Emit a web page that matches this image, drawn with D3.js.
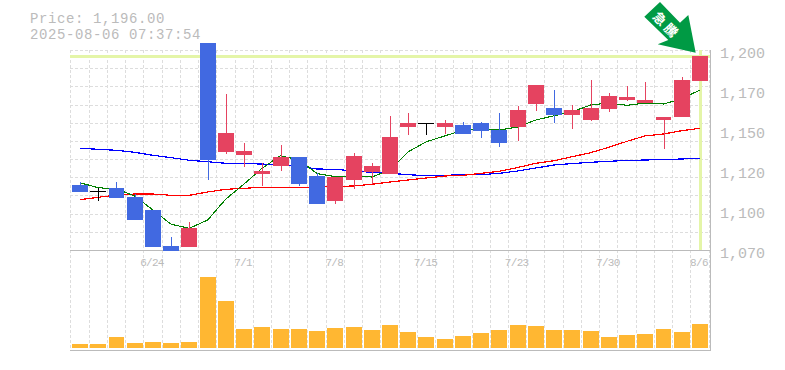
<!DOCTYPE html>
<html><head><meta charset="utf-8">
<script src="https://cdn.jsdelivr.net/npm/d3@7"></script>
<style>html,body{margin:0;padding:0;background:#fff}svg{display:block}text{font-family:"Liberation Mono",monospace}</style>
</head><body><div id="chart"></div>
<script>
const dates=["6/18","6/19","6/20","6/23","6/24","6/25","6/26","6/27","6/30","7/1","7/2","7/3","7/4","7/7","7/8","7/9","7/10","7/11","7/14","7/15","7/16","7/17","7/18","7/22","7/23","7/24","7/25","7/28","7/29","7/30","7/31","8/1","8/4","8/5","8/6"];
const open_=[1112.25,1108.35,1110.3,1104.45,1096,1072.6,1071.95,1204.55,1133.7,1131.75,1119.4,1124.6,1130.45,1118.1,1101.85,1115.5,1120.7,1119.4,1149.95,1152.35,1149.95,1151.25,1152.55,1148,1149.95,1164.9,1162.3,1157.75,1154.5,1161.65,1167.5,1165.55,1154.5,1156.45,1179.85];
const close_=[1107.7,1108.35,1103.8,1089.5,1071.95,1069.35,1084.3,1128.5,1146.05,1134.35,1121.35,1130.45,1112.9,1099.9,1117.45,1131.1,1124.6,1143.45,1152.75,1152.35,1152.55,1145.4,1147.35,1139.55,1161,1177.25,1157.75,1161,1162.3,1170.1,1169.45,1167.5,1156.45,1180.5,1196.1];
const high=[1114.2,1110.5,1114.2,1106.2,1096,1078.45,1088.2,1204.55,1171.4,1139.55,1126.55,1138.25,1130.45,1120.05,1117.45,1133,1126.55,1157.1,1159.05,1152.35,1154.5,1153.2,1153.2,1159.05,1163.6,1177.25,1174,1164.25,1180.5,1172.05,1176.6,1179.2,1156.45,1182.45,1196.1];
const low=[1107.7,1101.85,1103.8,1089.5,1071.95,1069.35,1084.3,1115.5,1132.4,1124.05,1111.6,1121.35,1111.6,1099.9,1099.9,1109.65,1112.9,1119.4,1144.75,1144.75,1145.4,1145.4,1142.8,1136.95,1140.85,1160.35,1152.55,1148.65,1153.85,1159.7,1166.85,1165.55,1135.65,1156.45,1179.85];
const maShort=[1113.7,1110.5,1109.65,1105.1,1096,1086.7,1084.1,1089.5,1103.15,1112.9,1123.3,1131.3,1128.5,1119.7,1117.65,1118.1,1117.45,1122,1133.9,1140.4,1144.1,1148,1148.65,1148,1150,1154.5,1157.3,1159.9,1164.25,1165.55,1164.05,1165.55,1164.9,1168.35,1174];
const maMid=[1102.7,1104.25,1105.75,1106.4,1106.4,1105.55,1105.55,1107.7,1109.45,1110.1,1110.75,1110.75,1110.5,1110.95,1111.3,1111.6,1112.7,1114.2,1115.5,1116.8,1118.1,1118.55,1119.85,1121.15,1123.6,1126.35,1128.05,1130.65,1133.25,1136.75,1140.65,1144.2,1145.4,1147.55,1149.1];
const maLong=[1136.1,1135.45,1134.8,1133.5,1131.55,1130,1128.3,1127.4,1126.35,1126.1,1125.9,1125.25,1124.4,1122.65,1122.45,1121.35,1120.5,1119.85,1118.95,1118.3,1118.55,1118.95,1118.95,1119.85,1121.35,1123.3,1125.25,1126.2,1127,1127.65,1128.2,1128.5,1128.8,1129.15,1129.6];
const volume=[4,4,11,5,6,5,6,71,47,19,21,19,19,17,20,21,18,23,16,11,9,12,15,18,23,22,18,18,17,11,13,14,19,16,24];
const yTicks=[1200,1174,1148,1122,1096,1070];
const yTickLabels=["1,200","1,170","1,150","1,120","1,100","1,070"];
const xTickLabels=["6/24","7/1","7/8","7/15","7/23","7/30","8/6"];
const priceLine=1196;
const arrowLabel="急騰";

const W=785,H=370,L=70,R=710,T=50,B=250,VB=348,AX=350;
const svg=d3.select("#chart").append("svg").attr("width",W).attr("height",H);
const x=d3.scaleBand().domain(dates).range([70.9,709.1]).paddingInner(0.125).paddingOuter(0.0625);
const cx=d=>x(d)+x.bandwidth()/2;
const y=d3.scaleLinear().domain([1070,1200]).range([B,T]);
const v=d3.scaleLinear().domain([0,100]).range([VB,VB-100]);

// grid
const grid=svg.append("g").attr("stroke","#ddd").attr("stroke-dasharray","3 2").attr("fill","none");
d3.range(36).forEach(i=>{const gx=Math.floor(70.9+i*x.step())+.5;grid.append("line").attr("x1",gx).attr("x2",gx).attr("y1",T).attr("y2",AX);});
d3.range(12).forEach(i=>{const gy=Math.round(y(1070+i*130/11))+.5;grid.append("line").attr("x1",L).attr("x2",R).attr("y1",gy).attr("y2",gy);});

// highlight
svg.append("line").attr("x1",L).attr("x2",R).attr("y1",y(priceLine)).attr("y2",y(priceLine)).attr("stroke","#e4f5a8").attr("stroke-width",3).attr("shape-rendering","crispEdges");
svg.append("line").attr("x1",cx("8/6")+.5).attr("x2",cx("8/6")+.5).attr("y1",T).attr("y2",B).attr("stroke","#e4f5a8").attr("stroke-width",3).attr("shape-rendering","crispEdges");

// frame
const frame=svg.append("g").attr("stroke","#bbb").attr("fill","none");
frame.append("line").attr("x1",L).attr("x2",R).attr("y1",B+.5).attr("y2",B+.5);
frame.append("line").attr("x1",L).attr("x2",R).attr("y1",AX+.5).attr("y2",AX+.5);
frame.append("line").attr("x1",R+.5).attr("x2",R+.5).attr("y1",T).attr("y2",AX+1);

// volume
svg.append("g").attr("shape-rendering","crispEdges").selectAll("rect").data(volume).join("rect")
 .attr("x",(d,i)=>x(dates[i])).attr("width",x.bandwidth()).attr("y",d=>v(d)).attr("height",d=>VB-v(d)).attr("fill","#ffb732");

// moving averages
const line=d3.line().x((d,i)=>cx(dates[i])).y(d=>y(d));
[[maLong,"#0000ff",1.2],[maMid,"#ff0000",1.2],[maShort,"#008000",1.1]].forEach(([s,c,w])=>{
 svg.append("path").attr("d",line(s)).attr("fill","none").attr("stroke",c).attr("stroke-width",w).attr("shape-rendering","crispEdges");
});

// candles
const colorOf=i=>close_[i]>open_[i]?"#e54360":close_[i]<open_[i]?"#4169e1":"#000";
const cg=svg.append("g").attr("shape-rendering","crispEdges");
cg.selectAll("line").data(dates).join("line")
 .attr("x1",d=>Math.round(cx(d))+.5).attr("x2",d=>Math.round(cx(d))+.5)
 .attr("y1",(d,i)=>y(high[i])).attr("y2",(d,i)=>y(low[i])).attr("stroke",(d,i)=>colorOf(i));
cg.selectAll("rect").data(dates).join("rect")
 .attr("x",d=>x(d)).attr("width",x.bandwidth())
 .attr("y",(d,i)=>Math.min(y(open_[i]),y(close_[i])))
 .attr("height",(d,i)=>Math.max(1,Math.abs(y(open_[i])-y(close_[i]))))
 .attr("fill",(d,i)=>colorOf(i));

// labels
svg.append("g").attr("fill","#bbb").attr("font-size",15).selectAll("text").data(yTicks).join("text")
 .attr("x",720).attr("y",d=>y(d)+8).text((d,i)=>yTickLabels[i]);
svg.append("g").attr("fill","#bbb").attr("font-size",11).attr("letter-spacing",-0.7).attr("text-anchor","middle").selectAll("text").data(xTickLabels).join("text")
 .attr("x",d=>cx(d)-1).attr("y",266).text(d=>d);
svg.append("text").attr("x",30).attr("y",22.7).attr("fill","#bbb").attr("font-size",14).attr("letter-spacing",0.6).text("Price: 1,196.00");
svg.append("text").attr("x",30).attr("y",38.6).attr("fill","#bbb").attr("font-size",14).attr("letter-spacing",0.6).text("2025-08-06 07:37:54");

// arrow
svg.append("path").attr("fill","#009a44").attr("d",d3.line()([[660,2],[644.3,16.7],[668.3,40],[657.7,44.3],[695.7,52.7],[688.3,15],[680,22.7]])+"Z");
svg.append("text").attr("transform","translate(667,25) rotate(45)").attr("fill","#fff").attr("font-size",13).attr("font-weight","bold").attr("letter-spacing",3).attr("text-anchor","middle").attr("dominant-baseline","central").style("font-family",'"Noto Sans CJK JP"').text(arrowLabel);
</script></body></html>
